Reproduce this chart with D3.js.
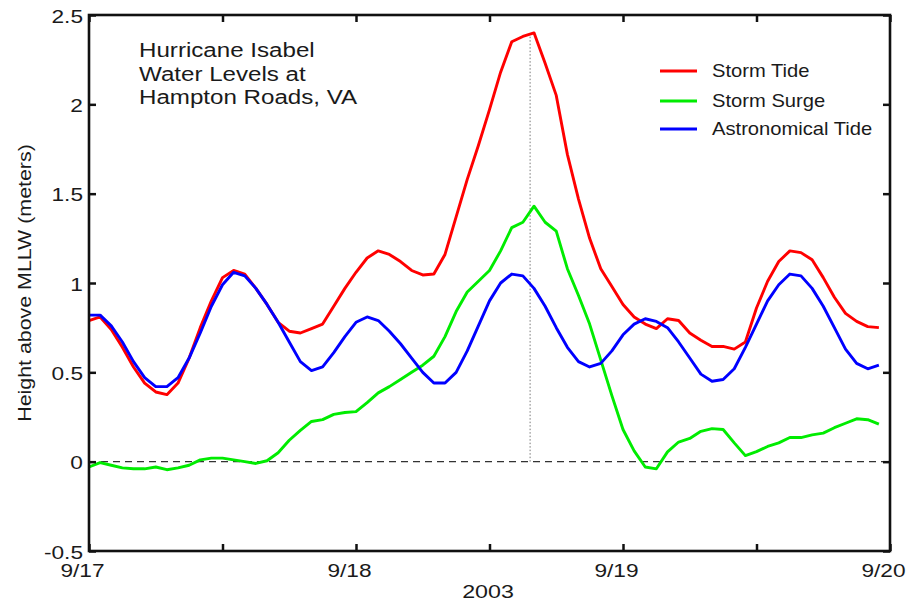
<!DOCTYPE html>
<html><head><meta charset="utf-8">
<script src="https://cdn.jsdelivr.net/npm/d3@7"></script>
<style>
body{margin:0;background:#fff;}
svg text{font-family:"Liberation Sans",Arial,Helvetica,sans-serif;fill:#1a1a1a;}
</style></head>
<body><svg id="c" width="912" height="604"></svg>
<script>
// hours after 9/17 00:00
const hours = d3.range(0, 72);
const stormTide = [0.79,0.81,0.74,0.64,0.53,0.44,0.39,0.375,0.44,0.58,0.75,0.90,1.03,1.07,1.05,0.97,0.88,0.78,0.73,0.72,0.745,0.77,0.87,0.97,
  1.06,1.14,1.18,1.16,1.12,1.07,1.045,1.05,1.16,1.37,1.58,1.77,1.97,2.18,2.35,2.38,2.40,2.23,2.05,1.72,1.47,1.25,1.08,0.98,
  0.88,0.81,0.77,0.745,0.80,0.79,0.72,0.68,0.645,0.645,0.63,0.67,0.86,1.01,1.12,1.18,1.17,1.13,1.03,0.92,0.83,0.785,0.756,0.75];
const stormSurge = [-0.03,-0.005,-0.02,-0.035,-0.04,-0.04,-0.03,-0.045,-0.035,-0.02,0.01,0.02,0.02,0.01,0.0,-0.01,0.005,0.05,0.12,0.175,0.225,0.235,0.265,0.275,
  0.28,0.33,0.385,0.42,0.46,0.50,0.54,0.59,0.70,0.84,0.95,1.01,1.07,1.18,1.31,1.34,1.43,1.34,1.29,1.08,0.93,0.77,0.57,0.37,
  0.18,0.06,-0.03,-0.04,0.055,0.11,0.13,0.17,0.185,0.18,0.105,0.034,0.056,0.085,0.105,0.135,0.135,0.15,0.16,0.19,0.215,0.24,0.235,0.21];
const astroTide = [0.82,0.82,0.76,0.67,0.56,0.47,0.42,0.42,0.47,0.58,0.72,0.87,0.99,1.06,1.04,0.97,0.88,0.78,0.67,0.56,0.51,0.53,0.61,0.70,
  0.78,0.81,0.79,0.73,0.66,0.58,0.50,0.44,0.44,0.50,0.62,0.76,0.90,1.00,1.05,1.04,0.97,0.87,0.75,0.64,0.56,0.53,0.55,0.62,
  0.71,0.77,0.80,0.785,0.75,0.67,0.58,0.49,0.45,0.46,0.52,0.64,0.77,0.90,0.99,1.05,1.04,0.97,0.87,0.75,0.63,0.55,0.52,0.54];
const peakHour = 39.65;
const seriesNames = ["Storm Tide","Storm Surge","Astronomical Tide"];
const seriesColors = ["#ff0000","#00ec00","#0000ff"];
const xTickHours = [0,12,24,36,48,60,72];
const xTickLabels = {0:"9/17",24:"9/18",48:"9/19",72:"9/20"};
const yTicks = [-0.5,0,0.5,1,1.5,2,2.5];
const titleLines = ["Hurricane Isabel","Water Levels at","Hampton Roads, VA"];

const svg = d3.select("#c");
const L=89,R=890,T=15,B=551;
const x = d3.scaleLinear().domain([0,72]).range([L,R]);
const y = d3.scaleLinear().domain([-0.5,2.5]).range([B,T]);

// zero dashed line
svg.append("line").attr("x1",L).attr("x2",R).attr("y1",y(0)).attr("y2",y(0))
  .attr("stroke","#333").attr("stroke-width",1.3).attr("stroke-dasharray","7,5");
// dotted peak line
svg.append("line").attr("x1",x(peakHour)).attr("x2",x(peakHour)).attr("y1",y(0)).attr("y2",y(2.40))
  .attr("stroke","#777").attr("stroke-width",1).attr("stroke-dasharray","1.5,2");

const line = d3.line().x((d,i)=>x(hours[i])).y(d=>y(d));
const data=[stormTide,stormSurge,astroTide];
[1,0,2].forEach(k=>{
  svg.append("path").attr("d",line(data[k])).attr("fill","none")
    .attr("stroke",seriesColors[k]).attr("stroke-width",2.9).attr("stroke-linejoin","round");
});

// axes
const axB = d3.axisBottom(x).tickValues(xTickHours).tickSize(-7).tickFormat(d=>xTickLabels[d]||"");
const axT = d3.axisTop(x).tickValues(xTickHours).tickSize(-7).tickFormat("");
const axLf = d3.axisLeft(y).tickValues(yTicks).tickSize(-7).tickFormat(d=>String(d));
const axRt = d3.axisRight(y).tickValues(yTicks).tickSize(-7).tickFormat("");
function style(g){
  g.select(".domain").remove();
  g.selectAll(".tick line").attr("stroke","#111").attr("stroke-width",2.5);
  g.selectAll("text").style("font-size","18.6px").attr("fill","#1a1a1a");
}
svg.append("g").attr("transform",`translate(0,${B})`).call(axB).call(style)
  .call(g=>g.selectAll(".tick text").attr("x",0).attr("y",0).attr("dy",null)
    .attr("transform","translate(-7,26) scale(1.22,1)"));
svg.append("g").attr("transform",`translate(0,${T})`).call(axT).call(style);
svg.append("g").attr("transform",`translate(${L},0)`).call(axLf).call(style)
  .call(g=>g.selectAll(".tick text").attr("x",0).attr("dy",null).attr("y",0)
    .attr("transform","translate(-6,7) scale(1.22,1)"));
svg.append("g").attr("transform",`translate(${R},0)`).call(axRt).call(style);
svg.append("rect").attr("x",L).attr("y",T).attr("width",R-L).attr("height",B-T)
  .attr("fill","none").attr("stroke","#111").attr("stroke-width",2.6);

// axis titles
svg.append("text").attr("transform","translate(488,598) scale(1.25,1)").attr("text-anchor","middle")
  .style("font-size","18.6px").text("2003");
svg.append("text").attr("transform",`translate(31,${(T+B)/2}) rotate(-90) scale(1.15,1)`).attr("text-anchor","middle")
  .style("font-size","18.6px").text("Height above MLLW (meters)");

// title block
titleLines.forEach((t,i)=>{
  svg.append("text").attr("transform",`translate(139,${57+i*23.7}) scale(1.15,1)`)
    .style("font-size","21px").text(t);
});

// legend
const legY=[71,101,129];
seriesNames.forEach((n,i)=>{
  const yy = legY[i];
  svg.append("line").attr("x1",660).attr("x2",697).attr("y1",yy).attr("y2",yy)
    .attr("stroke",seriesColors[i]).attr("stroke-width",2.9);
  svg.append("text").attr("transform",`translate(712,${yy+5.5}) scale(1.14,1)`)
    .style("font-size","17.7px").text(n);
});
</script></body></html>
